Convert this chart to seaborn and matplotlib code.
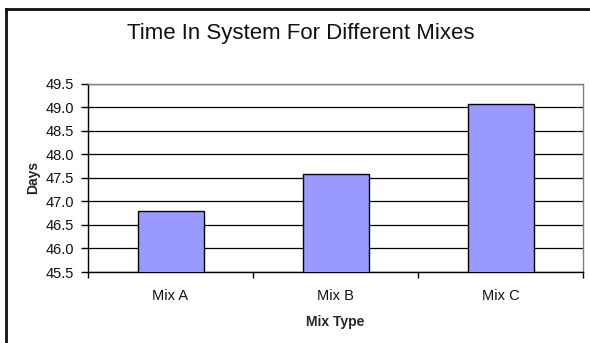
import matplotlib
matplotlib.use("Agg")
import matplotlib.pyplot as plt
from matplotlib.lines import Line2D
from matplotlib.ticker import FixedLocator
import pandas as pd
import seaborn as sns

# Chart data
mixes = ["Mix A", "Mix B", "Mix C"]
days = [46.8, 47.58, 49.06]
y_ticks = [45.5, 46.0, 46.5, 47.0, 47.5, 48.0, 48.5, 49.0, 49.5]

df = pd.DataFrame({"Mix Type": mixes, "Days": days})

sns.set_theme(style="white")
plt.rcParams["font.family"] = ["Liberation Sans", "DejaVu Sans"]

W, H = 590, 343
fig = plt.figure(figsize=(W / 100, H / 100), dpi=100)
fig.patch.set_facecolor("white")

# plot area in pixel coordinates
left, right, top, bottom = 88, 583, 83.5, 272
ax = fig.add_axes([left / W, (H - bottom) / H, (right - left) / W, (bottom - top) / H])

sns.barplot(data=df, x="Mix Type", y="Days", color="#9999FF", width=0.4,
            edgecolor="black", linewidth=1, saturation=1, ax=ax, zorder=3)

ax.set_ylim(45.5, 49.5)
ax.set_xlim(-0.5, 2.5)
ax.set_yticks(y_ticks)
ax.set_yticklabels([f"{v:.1f}" for v in y_ticks])

# horizontal gridlines
ax.yaxis.grid(True, color="black", linewidth=0.9, zorder=0)
ax.xaxis.grid(False)
ax.set_axisbelow(True)

# category separators as bottom ticks
ax.xaxis.set_minor_locator(FixedLocator([-0.5, 0.5, 1.5, 2.5]))
ax.tick_params(axis="x", which="major", length=0, pad=12, labelsize=10.5, colors="#111111")
ax.tick_params(axis="x", which="minor", bottom=True, length=4, width=1, color="black")
ax.tick_params(axis="y", which="major", left=True, length=5, width=1, color="black",
               pad=5, labelsize=10.5, labelcolor="#111111")

for s in ("left", "bottom"):
    ax.spines[s].set_color("black")
    ax.spines[s].set_linewidth(1)
for s in ("top", "right"):
    ax.spines[s].set_color("#808080")
    ax.spines[s].set_linewidth(1)

ax.set_xlabel("Mix Type", fontsize=10, fontweight="bold", labelpad=9)
ax.set_ylabel("Days", fontsize=10, fontweight="bold", labelpad=4)

fig.text(301 / W, 1 - 33 / H, "Time In System For Different Mixes",
         ha="center", va="center", fontsize=16, color="#111111")

# chart frame (top and left edges)
fx, fy = 5.5 / W, 1 - 8.5 / H
fig.add_artist(Line2D([fx, 1.0], [fy, fy], transform=fig.transFigure,
                      color="#111111", linewidth=2, solid_capstyle="projecting"))
fig.add_artist(Line2D([fx, fx], [0.0, fy], transform=fig.transFigure,
                      color="#111111", linewidth=2, solid_capstyle="projecting"))

fig.savefig("out.png", dpi=100, facecolor="white")
